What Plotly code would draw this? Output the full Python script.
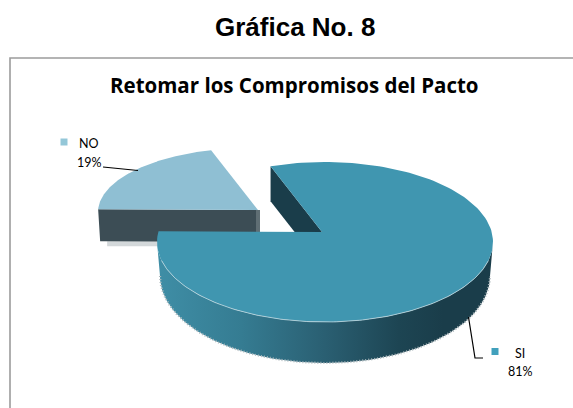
import numpy as np
import plotly.graph_objects as go

# Survey result
labels = ["SI", "NO"]
values = [81, 19]
percent_text = ["81%", "19%"]
main_title = "Gráfica No. 8"
chart_title = "Retomar los Compromisos del Pacto"

# Colours
top_si = "#4096B0"
top_no = "#8FBFD3"
wall_no = "#3C4D55"
wall_dark = "#1A3D4A"
frame = "#9C9C9C"

# Page-pixel drawing geometry of the tilted pie
FIRST_ANGLE = -21.0   # pie angle where the SI slice starts, clockwise from up
TILT = 0.49           # vertical squash applied to slice directions
si = dict(apex=(322, 232), c=(325, 242), rx=168, ry=80, depth=40)
si_floor = dict(c=(325, 276), rx=165, ry=87)
no = dict(apex=(258, 210), c=(250, 212), rx=152, ry=64, depth=32)


def rim_point(disc, angle):
    """Where the ray at a pie angle leaves the disc's projected ellipse."""
    a = np.radians(angle)
    dx, dy = np.sin(a), -np.cos(a) * TILT
    ox = disc["apex"][0] - disc["c"][0]
    oy = disc["apex"][1] - disc["c"][1]
    rx, ry = disc["rx"], disc["ry"]
    qa = (dx / rx) ** 2 + (dy / ry) ** 2
    qb = 2 * (ox * dx / rx**2 + oy * dy / ry**2)
    qc = (ox / rx) ** 2 + (oy / ry) ** 2 - 1
    t = (-qb + np.sqrt(qb**2 - 4 * qa * qc)) / (2 * qa)
    return disc["apex"][0] + t * dx, disc["apex"][1] + t * dy


def slice_path(disc, start, sweep):
    angles = np.linspace(start, start + sweep, 160)
    rim = [rim_point(disc, a) for a in angles]
    xs = [disc["apex"][0]] + [p[0] for p in rim] + [disc["apex"][0]]
    ys = [disc["apex"][1]] + [p[1] for p in rim] + [disc["apex"][1]]
    return xs, ys


def lower_half(ell):
    t = np.linspace(np.pi, 0, 160)
    return ell["c"][0] + ell["rx"] * np.cos(t), ell["c"][1] + ell["ry"] * np.sin(t)


total = sum(values)
si_sweep = 360 * values[0] / total
no_sweep = 360 * values[1] / total
si_end = FIRST_ANGLE + si_sweep

fig = go.Figure()


def poly(xs, ys, fill, **kw):
    fig.add_trace(go.Scatter(x=list(xs), y=list(ys), mode="lines", fill="toself",
                             fillcolor=fill, line=dict(width=0), hoverinfo="skip",
                             showlegend=False, **kw))


def stroke(xs, ys, color, width, dash="solid"):
    fig.add_trace(go.Scatter(x=list(xs), y=list(ys), mode="lines",
                             line=dict(color=color, width=width, dash=dash),
                             hoverinfo="skip", showlegend=False))


# NO slice: soft shadow, front cut face, top face
nl = rim_point(no, si_end)
d = no["depth"]
poly([nl[0] + 9, no["apex"][0], no["apex"][0], nl[0] + 9],
     [nl[1] + d, nl[1] + d, nl[1] + d + 5, nl[1] + d + 5], "#D3D8DA")
poly([nl[0], no["apex"][0] + 2, no["apex"][0] + 2, nl[0] + 2],
     [nl[1], no["apex"][1], no["apex"][1] + d, nl[1] + d], wall_no)
poly([no["apex"][0] - 2, no["apex"][0] + 2, no["apex"][0] + 2, no["apex"][0] - 2],
     [no["apex"][1], no["apex"][1], no["apex"][1] + d, no["apex"][1] + d], "#5F6E74")
xs, ys = slice_path(no, si_end, no_sweep)
poly(xs, ys, top_no)

# SI slice: cut face behind the top, outer rim with a left-to-right shade, top face
s0 = rim_point(si, FIRST_ANGLE)
d = si["depth"] - 5
poly([s0[0], si["apex"][0], si["apex"][0], s0[0]],
     [s0[1], si["apex"][1], si["apex"][1] + d, s0[1] + d], wall_dark)

tx, ty = lower_half(si)
bx, by = lower_half(si_floor)
fig.add_trace(go.Scatter(
    x=list(tx) + list(bx[::-1]), y=list(ty) + list(by[::-1]),
    mode="lines", fill="toself", line=dict(width=0), hoverinfo="skip", showlegend=False,
    fillgradient=dict(type="horizontal",
                      colorscale=[[0, "#3F8EA6"], [0.25, "#357C92"], [0.5, "#2A5F72"],
                                  [0.72, "#1D4553"], [0.85, wall_dark], [1, wall_dark]])))
stroke(bx, by, "#AEB9BD", 2.2, "1px,2px")

xs, ys = slice_path(si, FIRST_ANGLE, si_sweep)
poly(xs, ys, top_si)
stroke(tx[12:-12], ty[12:-12], "#BFD8E0", 0.8)

# Leader lines
stroke([103, 138], [167, 170.5], "#000000", 1.2)
stroke([468.5, 475, 483], [317, 358, 358], "#000000", 1.2)

# Frame around the chart area, open at the page edges
stroke([10, 10, 573], [408, 58, 58], frame, 1.6)

# Legend keys beside each data label
fig.add_trace(go.Scatter(x=[495, 64], y=[351.5, 142], mode="markers",
                         marker=dict(symbol="square", size=7, color=["#41A0BC", "#94C7D8"]),
                         hoverinfo="skip", showlegend=False))

notes = [
    (294.5, 27, main_title, 26, "Liberation Sans", True),
    (294.5, 85, chart_title, 20.5, "Open Sans", True),
    (520, 353, labels[0], 12.5, "Lato", False),
    (520, 371, percent_text[0], 12.5, "Lato", False),
    (89, 143, labels[1], 12.5, "Lato", False),
    (89, 162, percent_text[1], 12.5, "Lato", False),
]
annotations = [
    dict(x=x, y=y, xref="x", yref="y", text=f"<b>{t}</b>" if bold else t, showarrow=False,
         font=dict(family=fam, size=size, color="#000000"), xanchor="center", yanchor="middle")
    for x, y, t, size, fam, bold in notes
]

fig.update_layout(
    width=573, height=408, margin=dict(l=0, r=0, t=0, b=0),
    paper_bgcolor="white", plot_bgcolor="white", showlegend=False,
    annotations=annotations,
    xaxis=dict(range=[0, 573], visible=False, fixedrange=True),
    yaxis=dict(range=[408, 0], visible=False, fixedrange=True),
)
fig.write_html("out.html", config=dict(displayModeBar=False))
